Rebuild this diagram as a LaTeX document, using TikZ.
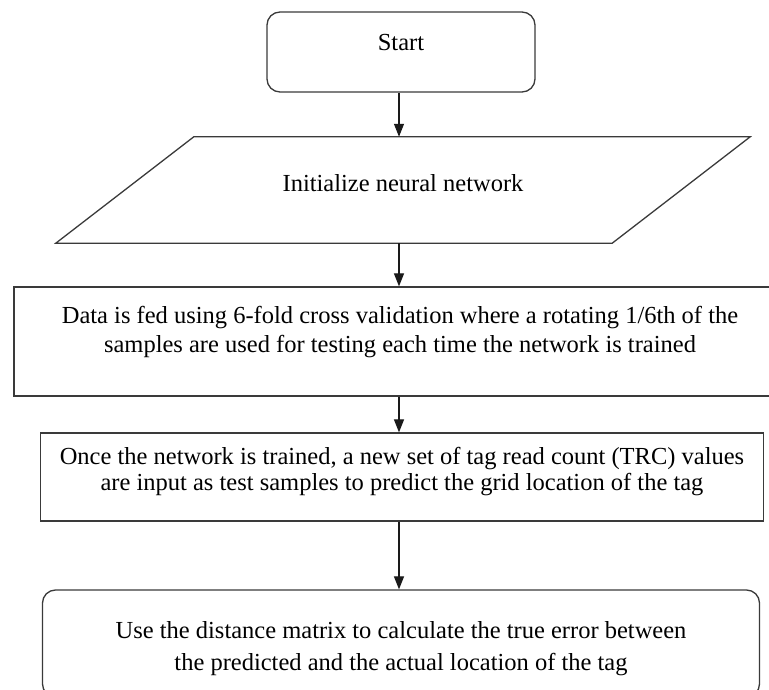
\documentclass[tikz,border=0pt]{standalone}
\usepackage{fontspec}
\setmainfont{Liberation Serif}
\usetikzlibrary{positioning,arrows.meta}
\definecolor{FlowEdge}{HTML}{3A3A3A}
\definecolor{FlowArrow}{HTML}{1A1A1A}

\begin{document}
\begin{tikzpicture}[x=1pt, y=-1pt, font=\fontsize{24.5}{29}\selectfont,
  boxline/.style={draw=FlowEdge, line width=1.3pt},
  roundbox/.style={boxline, rounded corners=13pt},
  plainbox/.style={boxline},
  flowarrow/.style={draw=FlowArrow, line width=1.2pt, -{Triangle[length=13pt,width=10pt]}}]
  % page frame (the lower and right edges of the chart run off the image)
  \useasboundingbox (0,0) rectangle (769,690);
  \clip (0,0) rectangle (769,690);
  % start
  \node[roundbox, minimum width=268, minimum height=80] (start) at (401,52) {};
  \node (startlbl) at ([yshift=9pt]start.center) {Start};
  % input parallelogram
  \node[minimum width=556, minimum height=106, inner sep=0pt] (init) at (403,190) {};
  \draw[boxline] ([xshift=69pt]init.north west) -- ([xshift=69pt]init.north east)
    -- ([xshift=-69pt]init.south east) -- ([xshift=-69pt]init.south west) -- cycle;
  \node (initlbl) at ([yshift=7pt]init.center) {Initialize neural network};
  % training
  \node[plainbox, minimum width=772, minimum height=109] (feed) at (400,341.5) {};
  \node[align=center] (feedlbl) at ([yshift=9pt]feed.center)
    {Data is fed using 6-fold cross validation where a rotating 1/6th of the\\
     samples are used for testing each time the network is trained};
  % prediction
  \node[plainbox, minimum width=723, minimum height=88] (predict) at (402,477) {};
  \node[align=center] (predictlbl) at ([yshift=5pt]predict.center)
    {Once the network is trained, a new set of tag read count (TRC) values\\[-3pt]
     are input as test samples to predict the grid location of the tag};
  % error
  \node[roundbox, minimum width=717, minimum height=107] (error) at (401,643.5) {};
  \node[align=center] (errorlbl) at ([yshift=-5pt]error.center)
    {Use the distance matrix to calculate the true error between\\[3pt]
     the predicted and the actual location of the tag};
  % connectors
  \draw[flowarrow] ([xshift=-2pt]start.south) -- ([xshift=-2pt]start.south |- init.north);
  \draw[flowarrow] ([xshift=-1pt]feed.north |- init.south) -- ([xshift=-1pt]feed.north);
  \draw[flowarrow] ([xshift=-1pt]feed.south) -- ([xshift=-1pt]feed.south |- predict.north);
  \draw[flowarrow] ([xshift=-1pt]feed.south |- predict.south) -- ([xshift=-1pt]feed.south |- error.north);
\end{tikzpicture}
\end{document}
